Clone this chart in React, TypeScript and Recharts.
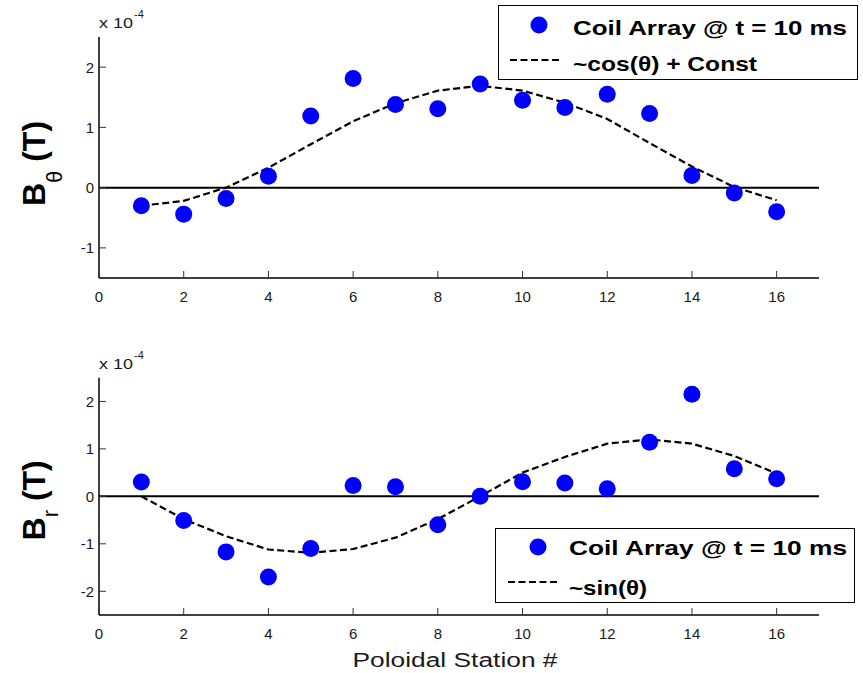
import { ComposedChart, Scatter, Line, XAxis, YAxis, ReferenceLine, Legend, Label } from 'recharts'

const stations = [1, 2, 3, 4, 5, 6, 7, 8, 9, 10, 11, 12, 13, 14, 15, 16]
const bTheta = [-0.30, -0.44, -0.18, 0.19, 1.19, 1.81, 1.38, 1.31, 1.72, 1.45, 1.33, 1.55, 1.23, 0.20, -0.09, -0.40]
const cosFit = [-0.30, -0.22, 0.00, 0.33, 0.72, 1.10, 1.40, 1.61, 1.69, 1.61, 1.41, 1.14, 0.74, 0.35, 0.01, -0.21]
const bR = [0.30, -0.51, -1.17, -1.70, -1.10, 0.23, 0.20, -0.60, 0.00, 0.31, 0.28, 0.16, 1.14, 2.15, 0.58, 0.37]
const sinFit = [0.00, -0.48, -0.84, -1.12, -1.19, -1.11, -0.87, -0.48, 0.00, 0.50, 0.83, 1.11, 1.20, 1.11, 0.85, 0.48]

const xTicks = [0, 2, 4, 6, 8, 10, 12, 14, 16]
const thetaTicks = [-1, 0, 1, 2]
const rTicks = [-2, -1, 0, 1, 2]

const measLabel = 'Coil Array @ t = 10 ms'
const cosLabel = '~cos(θ) + Const'
const sinLabel = '~sin(θ)'
const xTitle = 'Poloidal Station #'

const FONT = '"Liberation Sans", Arial, Helvetica, sans-serif'
const BLUE = '#0000ff'
const TICK_COLOR = '#333'

const topData = stations.map((s, i) => ({ x: s, meas: bTheta[i], fit: cosFit[i] }))
const bottomData = stations.map((s, i) => ({ x: s, meas: bR[i], fit: sinFit[i] }))

const BottomTick = (props: any) => {
    const { x, y, payload } = props
    return (
        <g>
            <line x1={x} y1={y} x2={x} y2={y - 7} stroke={TICK_COLOR} strokeWidth={1} />
            <text x={x} y={y + 24} textAnchor="middle" fontSize={15} fontFamily={FONT} fill="#1a1a1a">
                {payload.value}
            </text>
        </g>
    )
}

const TopTick = (props: any) => {
    const { x, y } = props
    return <line x1={x} y1={y} x2={x} y2={y + 7} stroke={TICK_COLOR} strokeWidth={1} />
}

const LeftTick = (props: any) => {
    const { x, y, payload } = props
    return (
        <g>
            <line x1={x} y1={y} x2={x + 7} y2={y} stroke={TICK_COLOR} strokeWidth={1} />
            <text x={x - 5} y={y + 5.5} textAnchor="end" fontSize={15} fontFamily={FONT} fill="#1a1a1a">
                {payload.value}
            </text>
        </g>
    )
}

const RightTick = (props: any) => {
    const { x, y } = props
    return <line x1={x - 7} y1={y} x2={x} y2={y} stroke={TICK_COLOR} strokeWidth={1} />
}

const Dot = (props: any) => <circle cx={props.cx} cy={props.cy} r={8.5} fill={BLUE} />

function yLabel(sub: string, subShift: number, centerShift: number) {
    return (props: any) => {
        const vb = props.viewBox
        const cx = 45
        const cy = vb.y + vb.height / 2 + centerShift
        return (
            <g>
                <text x={vb.x + vb.width} y={vb.y - 9} fontSize={15} fontFamily={FONT} fill="#1a1a1a"
                    textLength={34} lengthAdjust="spacingAndGlyphs">x 10</text>
                <text x={vb.x + vb.width + 35} y={vb.y - 19} fontSize={11} fontFamily={FONT} fill="#1a1a1a">-4</text>
                <text transform={`rotate(-90 ${cx} ${cy})`} x={cx} y={cy} textAnchor="middle"
                    fontFamily={FONT} fontWeight="bold" fontSize={32} fill="#000">
                    B
                    <tspan fontSize={22} fontWeight="normal" dy={subShift}>{sub}</tspan>
                    <tspan dy={-subShift}> (T)</tspan>
                </text>
            </g>
        )
    }
}

interface LegendPos {
    mx: number
    my: number
    tx: number
    t1y: number
    t1len: number
    lx1: number
    lx2: number
    ly: number
    t2y: number
    t2len: number
}

function legendBox(fitLabel: string, p: LegendPos) {
    return () => (
        <svg width={360} height={76} style={{ display: 'block' }}>
            <rect x={0.5} y={0.5} width={359} height={74} fill="#fff" stroke="#000" strokeWidth={1} />
            <circle cx={p.mx} cy={p.my} r={8.5} fill={BLUE} />
            <text x={p.tx} y={p.t1y} fontSize={21} fontWeight="bold" fontFamily={FONT}
                textLength={p.t1len} lengthAdjust="spacingAndGlyphs">{measLabel}</text>
            <line x1={p.lx1} x2={p.lx2} y1={p.ly} y2={p.ly} stroke="#000" strokeWidth={2.2} strokeDasharray="7 3.5" />
            <text x={p.tx} y={p.t2y} fontSize={21} fontWeight="bold" fontFamily={FONT}
                textLength={p.t2len} lengthAdjust="spacingAndGlyphs">{fitLabel}</text>
        </svg>
    )
}

const XTitle = (props: any) => {
    const vb = props.viewBox
    return (
        <text x={vb.x + vb.width / 2 - 4} y={vb.y + 52} textAnchor="middle" fontSize={20} fontFamily={FONT}
            fill="#1a1a1a" textLength={205} lengthAdjust="spacingAndGlyphs">{xTitle}</text>
    )
}

interface PanelProps {
    data: { x: number; meas: number; fit: number }[]
    height: number
    margin: { top: number; right: number; bottom: number; left: number }
    domain: [number, number]
    ticks: number[]
    label: (props: any) => any
    legend: () => any
    legendPos: { left: number; top: number }
    showTitle?: boolean
}

function Panel({ data, height, margin, domain, ticks, label, legend, legendPos, showTitle }: PanelProps) {
    return (
        <ComposedChart width={863} height={height} data={data} margin={margin}>
            <XAxis dataKey="x" type="number" domain={[0, 17]} ticks={xTicks} height={30}
                axisLine={{ stroke: '#000', strokeWidth: 1.5 }} tickLine={false} tickSize={0} tickMargin={0}
                tick={<BottomTick />} allowDataOverflow>
                {showTitle ? <Label content={<XTitle />} /> : null}
            </XAxis>
            <XAxis xAxisId="top" orientation="top" dataKey="x" type="number" domain={[0, 17]} ticks={xTicks}
                height={0} axisLine={{ stroke: '#000', strokeWidth: 1.5 }} tickLine={false} tickSize={0}
                tickMargin={0} tick={<TopTick />} allowDataOverflow />
            <YAxis type="number" domain={domain} ticks={ticks} width={99}
                axisLine={{ stroke: '#000', strokeWidth: 1.5 }} tickLine={false} tickSize={0} tickMargin={0}
                tick={<LeftTick />} allowDataOverflow>
                <Label content={label} />
            </YAxis>
            <YAxis yAxisId="right" orientation="right" type="number" domain={domain} ticks={ticks} width={0}
                axisLine={{ stroke: '#000', strokeWidth: 1.5 }} tickLine={false} tickSize={0} tickMargin={0}
                tick={<RightTick />} allowDataOverflow />
            <ReferenceLine y={0} stroke="#000" strokeWidth={2} />
            <Line dataKey="fit" type="linear" stroke="#000" strokeWidth={2.2} strokeDasharray="7 3.5"
                dot={false} activeDot={false} isAnimationActive={false} />
            <Scatter dataKey="meas" fill={BLUE} shape={<Dot />} isAnimationActive={false} />
            <Legend layout="vertical" align="center" verticalAlign="middle" width={360} height={76}
                content={legend} wrapperStyle={{ left: legendPos.left, top: legendPos.top, width: 360, height: 76 }} />
        </ComposedChart>
    )
}

export default function App() {
    return (
        <div style={{ position: 'fixed', left: 0, top: 0, width: 863, height: 673, background: '#fff', fontFamily: FONT }}>
            <div style={{ position: 'absolute', left: 0, top: 0 }}>
                <Panel
                    data={topData}
                    height={310}
                    margin={{ top: 37, right: 44, bottom: 2, left: 0 }}
                    domain={[-1.5, 2.5]}
                    ticks={thetaTicks}
                    label={yLabel('θ', 17, 6)}
                    legend={legendBox(cosLabel, { mx: 41, my: 20, tx: 75, t1y: 30, t1len: 274, lx1: 12, lx2: 62, ly: 55, t2y: 66, t2len: 184 })}
                    legendPos={{ left: 498, top: 5 }}
                />
            </div>
            <div style={{ position: 'absolute', left: 0, top: 340 }}>
                <Panel
                    data={bottomData}
                    height={333}
                    margin={{ top: 37.7, right: 44, bottom: 28, left: 0 }}
                    domain={[-2.5, 2.5]}
                    ticks={rTicks}
                    label={yLabel('r', 13, 4)}
                    legend={legendBox(sinLabel, { mx: 43, my: 19, tx: 74, t1y: 27, t1len: 278, lx1: 13, lx2: 65, ly: 54, t2y: 67, t2len: 78 })}
                    legendPos={{ left: 495, top: 188 }}
                    showTitle
                />
            </div>
        </div>
    )
}
